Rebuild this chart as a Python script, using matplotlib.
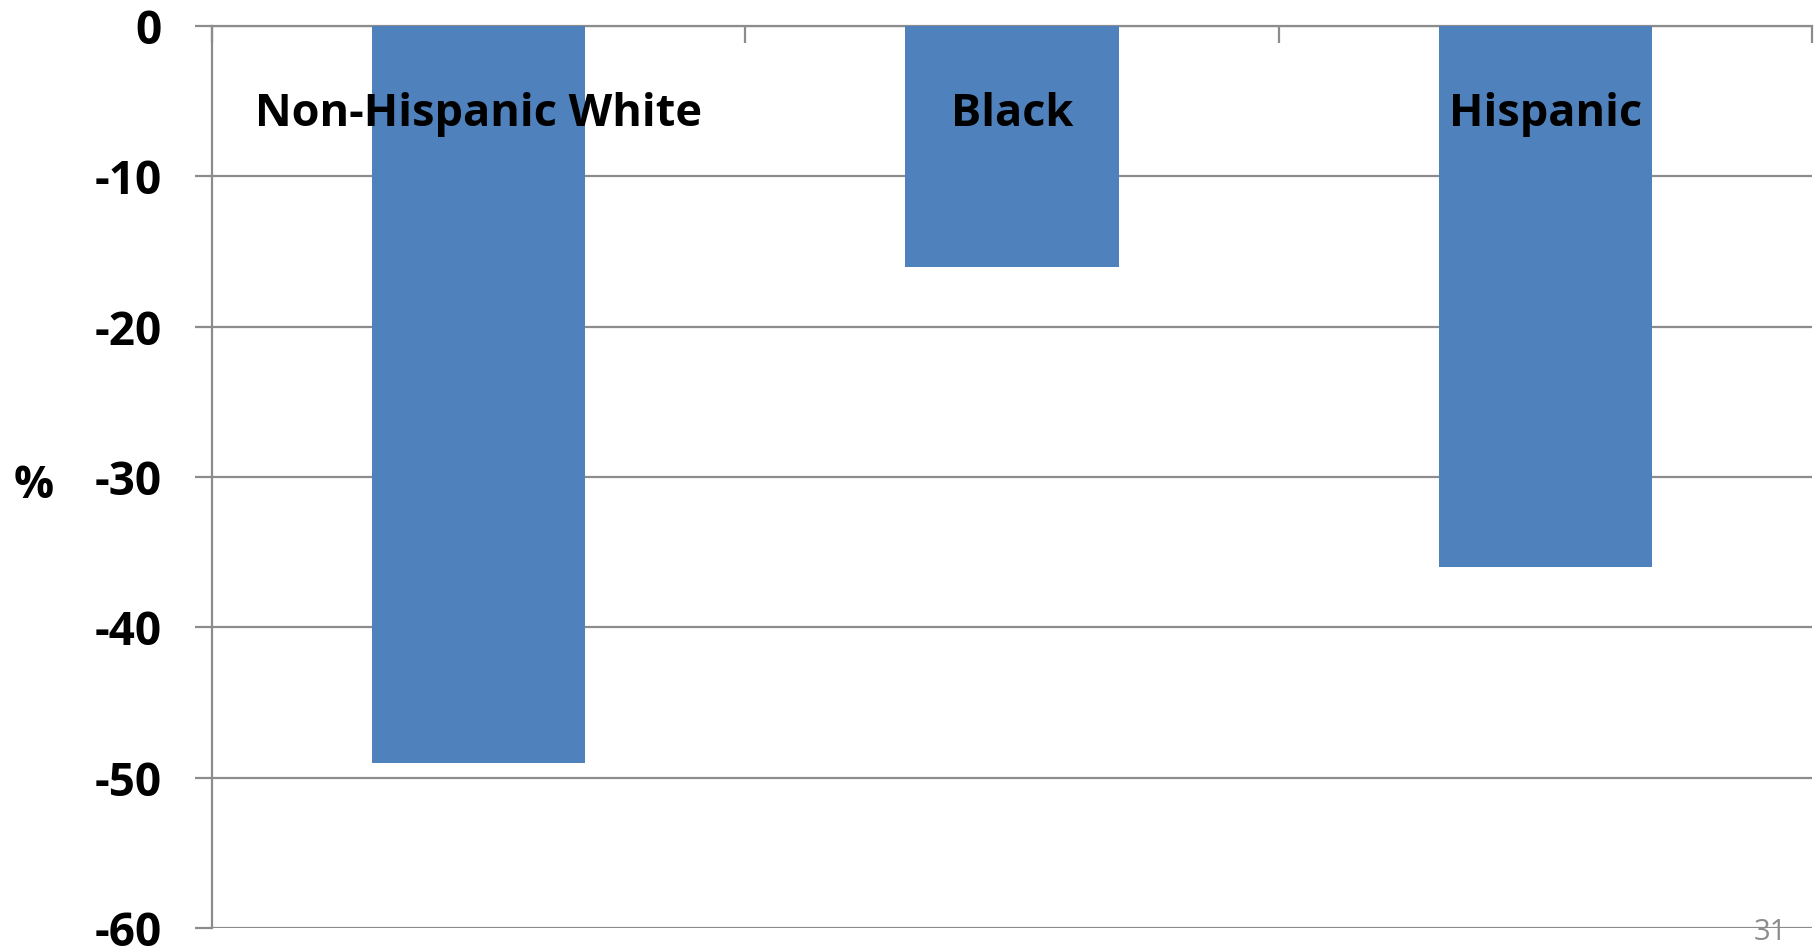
import matplotlib
matplotlib.use("Agg")
import matplotlib.pyplot as plt

groups = ["Non-Hispanic White", "Black", "Hispanic"]
change = [-49.0, -16.0, -36.0]
yticks = [0, -10, -20, -30, -40, -50, -60]

bar_color = "#4F81BD"
grid_color = "#8C8C8C"

plt.rcParams["font.family"] = ["Open Sans", "DejaVu Sans"]

fig = plt.figure(figsize=(18.16, 9.51), dpi=100)
ax = fig.add_axes([212 / 1816, 1 - 928 / 951, 1600 / 1816, 902 / 951])

x = range(len(groups))
ax.bar(x, change, width=0.4, color=bar_color, zorder=3)

ax.set_xlim(-0.5, len(groups) - 0.5)
ax.set_ylim(-60, 0)
ax.set_yticks(yticks)
ax.set_yticklabels([str(v) for v in yticks], fontsize=33, fontweight="bold")
ax.yaxis.grid(True, color=grid_color, linewidth=1.6, zorder=1)
ax.tick_params(axis="y", length=12, width=1.6, color=grid_color, pad=24)

# category separators on the zero line, pointing down
ax.xaxis.tick_top()
ax.set_xticks([i - 0.5 for i in range(len(groups) + 1)])
ax.set_xticklabels([])
ax.tick_params(axis="x", direction="in", length=12, width=1.6, color=grid_color)

for side in ["right", "bottom"]:
    ax.spines[side].set_visible(False)
for side in ["left", "top"]:
    ax.spines[side].set_color(grid_color)
    ax.spines[side].set_linewidth(1.6)

for i, name in enumerate(groups):
    ax.text(i, -5.9, name, ha="center", va="center", fontsize=32.5,
            fontweight="bold", zorder=4)

fig.text(34 / 1816, 1 - 486 / 951, "%", ha="center", va="center",
         fontsize=32, fontweight="bold")
fig.text(1770 / 1816, 1 - 932 / 951, "31", ha="center", va="center",
         fontsize=21, color="#8C8C8C")

fig.savefig("out.png", dpi=100)
